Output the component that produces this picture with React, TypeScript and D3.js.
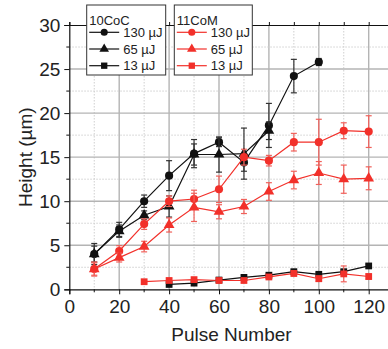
import React, { useRef, useEffect } from 'react';
import * as d3 from 'd3';

// pulse numbers for each series
const pulsesCoC130 = [10, 20, 30, 40, 50, 60, 70, 80, 90, 100];
const pulsesCoC65 = [10, 20, 30, 40, 50, 60, 70, 80];
const pulsesCoC13 = [40, 50, 60, 70, 80, 90, 100, 110, 120];
const pulsesCoM = [10, 20, 30, 40, 50, 60, 70, 80, 90, 100, 110, 120];
const pulsesCoM13 = [30, 40, 50, 60, 70, 80, 90, 100, 110, 120];

// 10CoC
const coc130 = [4.0, 6.8, 10.0, 12.9, 15.4, 16.7, 14.4, 18.6, 24.2, 25.8];
const coc130Err = [1.2, 0.8, 0.7, 1.7, 1.6, 0.5, 1.0, 2.5, 1.9, 0.4];
const coc65 = [4.0, 6.6, 8.4, 9.4, 15.3, 15.3, 15.4, 18.0];
const coc65Err = [0.9, 0.7, 0.5, 1.2, 1.2, 2.0, 2.9, 1.0];
const coc13 = [0.55, 0.7, 1.05, 1.35, 1.6, 2.0, 1.7, 2.0, 2.65];
const coc13Err = [0.15, 0.15, 0.15, 0.2, 0.2, 0.2, 0.2, 0.2, 0.2];

// 11CoM
const com130 = [2.3, 4.35, 7.4, 10.0, 10.25, 11.35, 15.0, 14.6, 16.7, 16.7, 18.0, 17.9];
const com130Err = [0.8, 0.6, 0.6, 0.6, 1.0, 1.5, 0.9, 0.6, 1.0, 2.6, 0.9, 1.8];
const com65 = [2.3, 3.6, 4.85, 7.3, 9.3, 8.8, 9.4, 11.1, 12.4, 13.2, 12.5, 12.6];
const com65Err = [0.7, 0.5, 0.6, 0.8, 1.6, 0.8, 0.8, 1.0, 1.0, 1.3, 1.6, 1.3];
const com13 = [0.86, 1.0, 1.1, 1.0, 1.0, 1.4, 1.8, 1.2, 1.75, 1.45];
const com13Err = [0.15, 0.2, 0.2, 0.2, 0.2, 0.2, 0.3, 0.3, 0.9, 0.3];

const xTicks = [0, 20, 40, 60, 80, 100, 120];
const yTicks = [0, 5, 10, 15, 20, 25, 30];
const legendLabels = ['130 µJ', '65 µJ', '13 µJ'];
const groupTitles = ['10CoC', '11CoM'];

const BLACK = '#111111';
const RED = '#f2302a';

export default function App() {
    const svgRef = useRef<SVGSVGElement | null>(null);

    useEffect(() => {
        if (!svgRef.current) return;
        const svg = d3.select(svgRef.current);
        svg.selectAll('*').remove();

        const width = 388, height = 349;
        const left = 69.3, top = 25, bottom = 289.3;
        const font = 'Liberation Sans, Arial, sans-serif';

        const x = d3.scaleLinear().domain([0, 130]).range([left, left + 130 * (299.4 / 120)]);
        const y = d3.scaleLinear().domain([0, 30]).range([bottom, top]);
        const right = x(130);

        svg.attr('width', width).attr('height', height);

        // grid
        const grid = svg.append('g');
        d3.range(10, 130, 10).forEach(v => {
            const major = v % 20 === 0;
            grid.append('line')
                .attr('x1', x(v)).attr('x2', x(v)).attr('y1', top).attr('y2', bottom)
                .attr('stroke', major ? '#b4b4b4' : '#cfcfcf')
                .attr('stroke-width', major ? 1.4 : 1)
                .attr('stroke-dasharray', major ? null : '1.5,1.5');
        });
        d3.range(2.5, 30, 2.5).forEach(v => {
            const major = v % 5 === 0;
            grid.append('line')
                .attr('x1', left).attr('x2', right).attr('y1', y(v)).attr('y2', y(v))
                .attr('stroke', major ? '#b4b4b4' : '#cfcfcf')
                .attr('stroke-width', major ? 1.4 : 1)
                .attr('stroke-dasharray', major ? null : '1.5,1.5');
        });

        // axes
        const xAxis = svg.append('g').attr('transform', `translate(0,${bottom})`)
            .call(d3.axisBottom(x).tickValues(xTicks).tickSize(5).tickPadding(5));
        xAxis.append('g').selectAll('line').data(d3.range(10, 130, 20)).join('line')
            .attr('x1', d => x(d)).attr('x2', d => x(d)).attr('y1', 0).attr('y2', 3)
            .attr('stroke', BLACK);
        const yAxis = svg.append('g').attr('transform', `translate(${left},0)`)
            .call(d3.axisLeft(y).tickValues(yTicks).tickSize(5).tickPadding(4));
        yAxis.append('g').selectAll('line').data(d3.range(2.5, 30, 5)).join('line')
            .attr('x1', 0).attr('x2', -3).attr('y1', d => y(d)).attr('y2', d => y(d))
            .attr('stroke', BLACK);
        const topAxis = svg.append('g').attr('transform', `translate(0,${top})`)
            .call(d3.axisTop(x).tickValues(d3.range(0, 130, 10)).tickSize(3).tickFormat(() => ''));
        [xAxis, yAxis, topAxis].forEach(a => {
            a.select('.domain').attr('stroke', BLACK).attr('stroke-width', 1.2);
            a.selectAll('.tick line').attr('stroke', BLACK);
            a.selectAll('text').attr('fill', '#222').style('font-family', font).style('font-size', '19px');
        });

        svg.append('text')
            .attr('x', (left + right) / 2).attr('y', 341)
            .attr('text-anchor', 'middle').attr('fill', '#222')
            .style('font-family', font).style('font-size', '19px')
            .text('Pulse Number');
        svg.append('text')
            .attr('transform', `translate(32,${(top + bottom) / 2}) rotate(-90)`)
            .attr('text-anchor', 'middle').attr('fill', '#222')
            .style('font-family', font).style('font-size', '19px')
            .text('Height (µm)');

        const series = [
            { xs: pulsesCoC130, ys: coc130, err: coc130Err, color: BLACK, errColor: '#333', sym: d3.symbolCircle, size: 52 },
            { xs: pulsesCoC65, ys: coc65, err: coc65Err, color: BLACK, errColor: '#333', sym: d3.symbolTriangle, size: 50 },
            { xs: pulsesCoC13, ys: coc13, err: coc13Err, color: BLACK, errColor: '#333', sym: d3.symbolSquare, size: 46 },
            { xs: pulsesCoM, ys: com130, err: com130Err, color: RED, errColor: '#f0605a', sym: d3.symbolCircle, size: 52 },
            { xs: pulsesCoM, ys: com65, err: com65Err, color: RED, errColor: '#f0605a', sym: d3.symbolTriangle, size: 50 },
            { xs: pulsesCoM13, ys: com13, err: com13Err, color: RED, errColor: '#f0605a', sym: d3.symbolSquare, size: 46 },
        ];

        const line = d3.line<[number, number]>().x(d => x(d[0])).y(d => y(d[1]));
        series.forEach(s => {
            const pts: [number, number][] = s.xs.map((v, i) => [v, s.ys[i]]);
            const g = svg.append('g');
            g.append('path').datum(pts).attr('d', line)
                .attr('fill', 'none').attr('stroke', s.color).attr('stroke-width', 1.2);
            pts.forEach(([px, py], i) => {
                const e = s.err[i];
                g.append('line')
                    .attr('x1', x(px)).attr('x2', x(px)).attr('y1', y(py - e)).attr('y2', y(py + e))
                    .attr('stroke', s.errColor).attr('stroke-width', 1.2);
                [py - e, py + e].forEach(c => {
                    g.append('line')
                        .attr('x1', x(px) - 3).attr('x2', x(px) + 3).attr('y1', y(c)).attr('y2', y(c))
                        .attr('stroke', s.errColor).attr('stroke-width', 1.2);
                });
            });
            g.selectAll('path.m').data(pts).join('path').attr('class', 'm')
                .attr('transform', d => `translate(${x(d[0])},${y(d[1])})`)
                .attr('d', d3.symbol().type(s.sym).size(s.size)())
                .attr('fill', s.color);
        });

        // legends
        const boxes = [
            { x0: 86.7, color: BLACK, w: 79 },
            { x0: 174.3, color: RED, w: 78 },
        ];
        const legSyms = [d3.symbolCircle, d3.symbolTriangle, d3.symbolSquare];
        boxes.forEach((b, bi) => {
            const g = svg.append('g').attr('transform', `translate(${b.x0},5)`);
            g.append('rect').attr('width', b.w).attr('height', 70)
                .attr('fill', 'white').attr('stroke', '#333').attr('stroke-width', 1);
            g.append('text').attr('x', 2.5).attr('y', 20).attr('fill', '#222')
                .style('font-family', font).style('font-size', '13px').text(groupTitles[bi]);
            legendLabels.forEach((lab, i) => {
                const ly = 27.3 + i * 16.7;
                g.append('line').attr('x1', 2.5).attr('x2', 32.5).attr('y1', ly).attr('y2', ly)
                    .attr('stroke', b.color).attr('stroke-width', 1.2);
                g.append('path').attr('transform', `translate(17.5,${ly})`)
                    .attr('d', d3.symbol().type(legSyms[i]).size(40)()).attr('fill', b.color);
                g.append('text').attr('x', 36.5).attr('y', ly + 4.7).attr('fill', '#222')
                    .style('font-family', font).style('font-size', '13px').text(lab);
            });
        });
    }, []);

    return (
        <div style={{ position: 'absolute', left: 0, top: 0 }}>
            <svg ref={svgRef}></svg>
        </div>
    );
}
